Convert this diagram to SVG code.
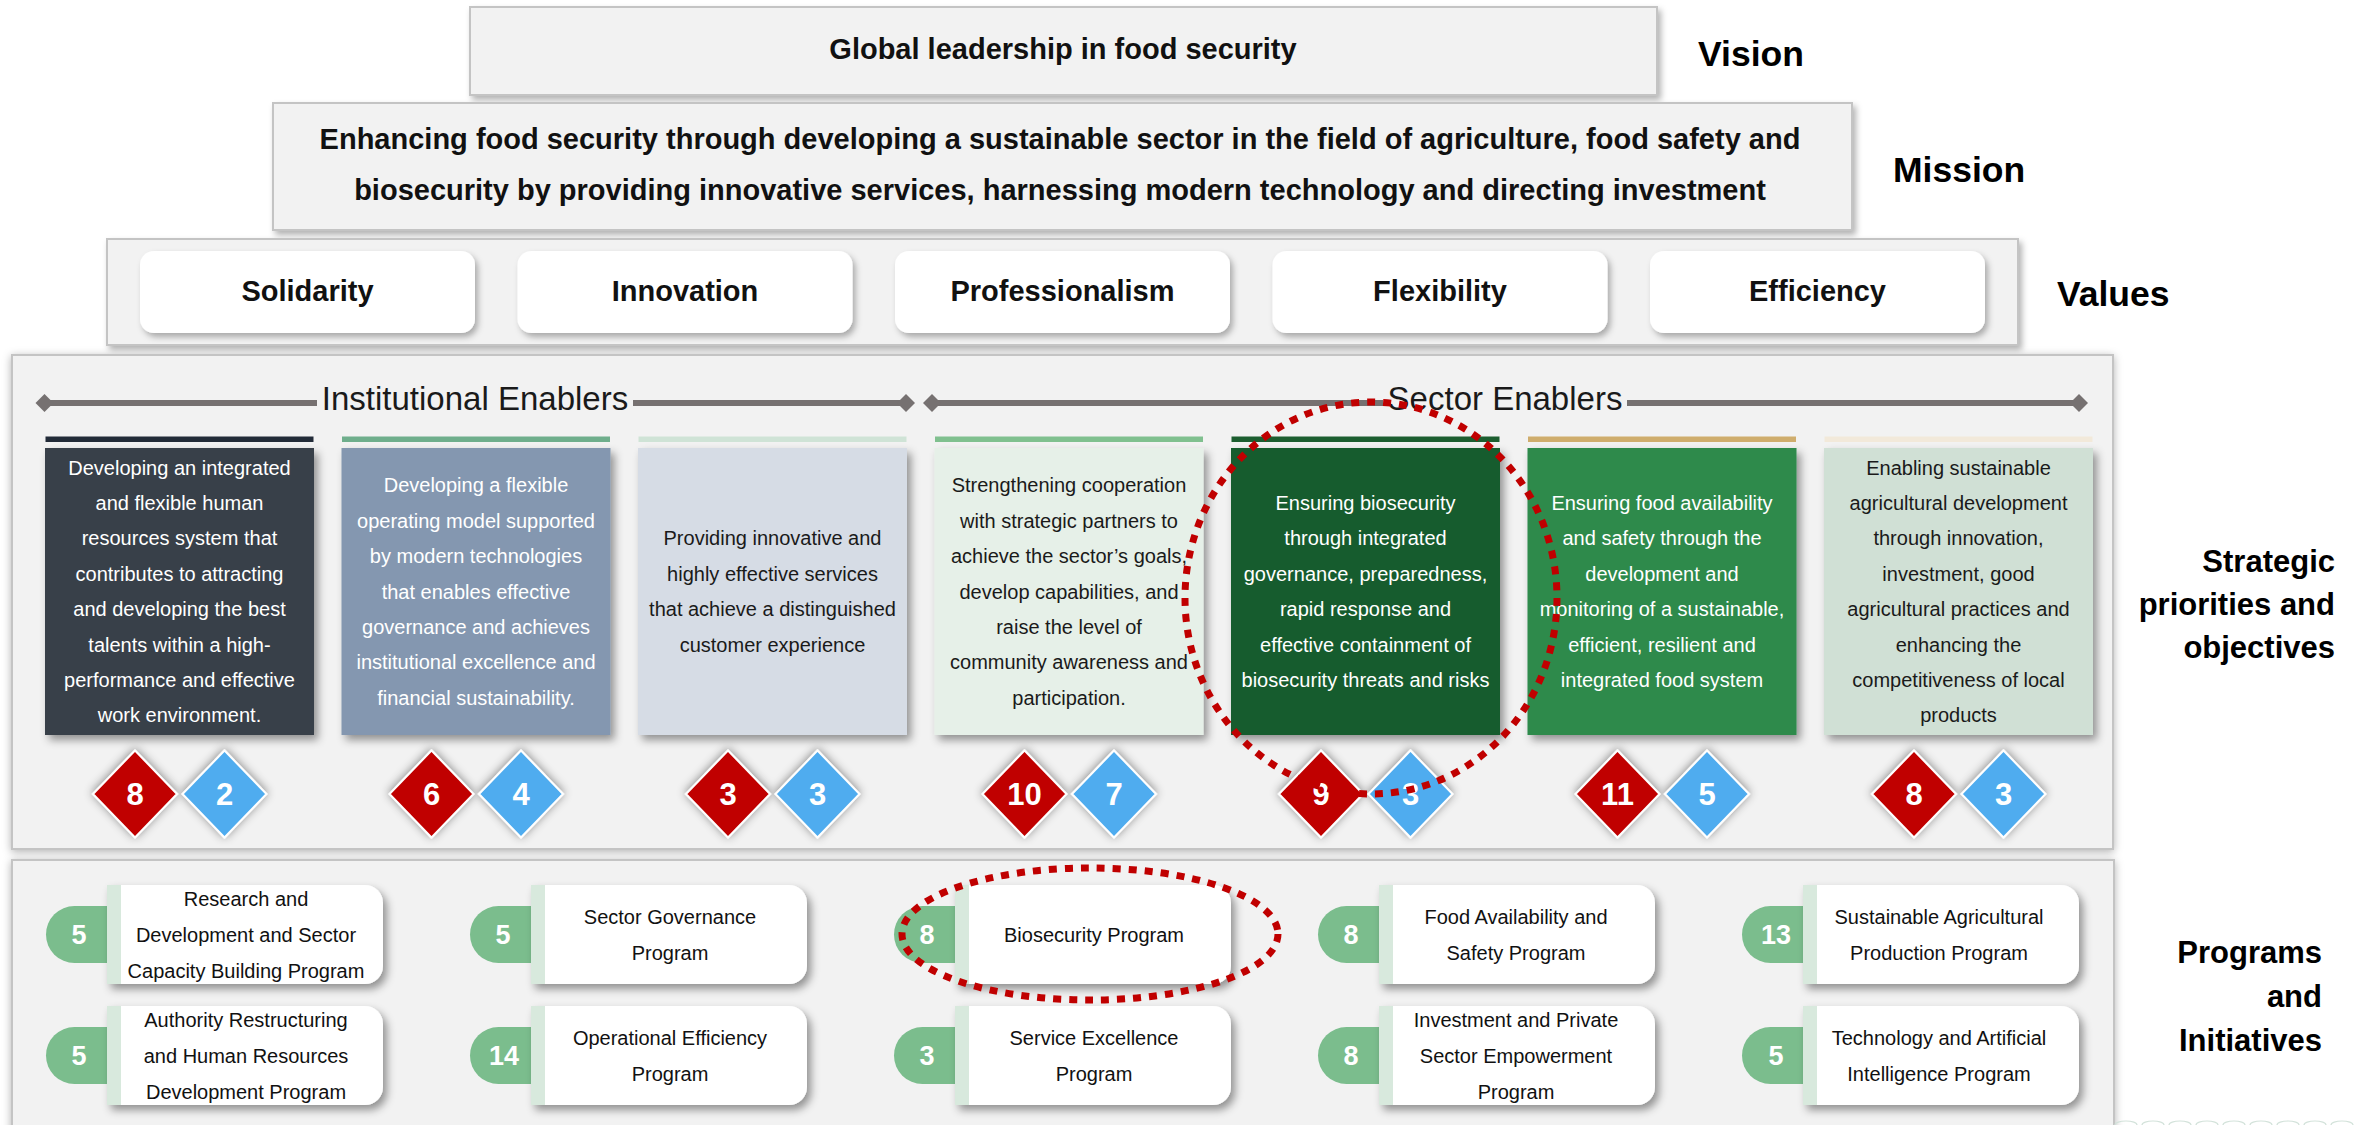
<svg xmlns="http://www.w3.org/2000/svg" width="2363" height="1125" viewBox="0 0 2363 1125">
<defs>
<filter id="sh" x="-10%" y="-10%" width="120%" height="130%"><feDropShadow dx="3" dy="4" stdDeviation="3" flood-color="#000" flood-opacity="0.3"/></filter>
<filter id="shc" x="-10%" y="-10%" width="125%" height="125%"><feDropShadow dx="4" dy="5" stdDeviation="4" flood-color="#000" flood-opacity="0.4"/></filter>
<filter id="shd" x="-30%" y="-30%" width="160%" height="160%"><feDropShadow dx="0" dy="-1" stdDeviation="5" flood-color="#000" flood-opacity="0.45"/></filter>
<filter id="shb" x="-5%" y="-5%" width="110%" height="110%"><feDropShadow dx="0" dy="2" stdDeviation="4" flood-color="#000" flood-opacity="0.3"/></filter>
<path id="hd" d="M-9,0 L0,-9 L9,0 L0,9Z"/>
<path id="dm" d="M0,-43.5 L42,0 L0,43.5 L-42,0Z"/>
<path id="pill" d="M28.5,0 H90 V57 H28.5 A28.5,28.5 0 0 1 28.5,0Z"/>
<path id="pcard" d="M0,0 H244 A18,18 0 0 1 262,18 V81 A18,18 0 0 1 244,99 H0Z"/>
</defs>
<style>
text{font-family:"Liberation Sans",Arial,sans-serif}
.bx{fill:#f2f2f2;stroke:#c4c4c4;stroke-width:2}
.h1{font-size:29px;font-weight:bold;fill:#111;text-anchor:middle}
.lab{font-size:35.5px;font-weight:bold;fill:#000}
.lab2{font-size:31px;font-weight:bold;fill:#000;text-anchor:end}
.val{fill:#fff}
.en{font-size:33px;fill:#1a1a1a;text-anchor:middle}
.hl{stroke:#767171;stroke-width:6}
.hdm{fill:#767171}
.ct{font-size:20px;text-anchor:middle}
.w{fill:#fff}
.k{fill:#1a1a1a}
.num{font-size:31px;font-weight:bold;fill:#fff;text-anchor:middle}
.red{fill:#c00000;stroke:#fff;stroke-width:2}
.blu{fill:#4facef;stroke:#fff;stroke-width:2}
.pl{fill:#7bbd8d}
.strip{fill:#d8e9dd}
.pc{fill:#fff}
.pn{font-size:27px;font-weight:bold;fill:#fff;text-anchor:middle}
.pt{font-size:20px;fill:#111;text-anchor:middle}
.hi{fill:none;stroke:#c00000;stroke-width:7;stroke-dasharray:8 8}
</style>

<rect x="0" y="0" width="2363" height="1125" fill="#fff"/>

<g id="vision">
<rect class="bx" x="470" y="7" width="1187" height="88" filter="url(#sh)"/>
<text class="h1" x="1063" y="59">Global leadership in food security</text>
<text class="lab" x="1698" y="66">Vision</text>
</g>

<g id="mission">
<rect class="bx" x="273" y="103" width="1579" height="127" filter="url(#sh)"/>
<text class="h1" x="1060" y="149">Enhancing food security through developing a sustainable sector in the field of agriculture, food safety and</text>
<text class="h1" x="1060" y="200">biosecurity by providing innovative services, harnessing modern technology and directing investment</text>
<text class="lab" x="1893" y="182">Mission</text>
</g>

<g id="values">
<rect class="bx" x="107" y="239" width="1911" height="106" filter="url(#sh)"/>
<g filter="url(#sh)">
<rect class="val" x="140" y="251" width="335" height="82" rx="14"/>
<rect class="val" x="517.5" y="251" width="335" height="82" rx="14"/>
<rect class="val" x="895" y="251" width="335" height="82" rx="14"/>
<rect class="val" x="1272.5" y="251" width="335" height="82" rx="14"/>
<rect class="val" x="1650" y="251" width="335" height="82" rx="14"/>
</g>
<text class="h1" x="307.5" y="301">Solidarity</text>
<text class="h1" x="685" y="301">Innovation</text>
<text class="h1" x="1062.5" y="301">Professionalism</text>
<text class="h1" x="1440" y="301">Flexibility</text>
<text class="h1" x="1817.5" y="301">Efficiency</text>
<text class="lab" x="2057" y="306">Values</text>
</g>

<g id="strategic">
<rect class="bx" x="12" y="355" width="2101" height="494" filter="url(#shb)"/>
<g id="headers">
<line class="hl" x1="44.5" y1="403" x2="317" y2="403"/>
<line class="hl" x1="633" y1="403" x2="906" y2="403"/>
<line class="hl" x1="932" y1="403" x2="1383" y2="403"/>
<line class="hl" x1="1627" y1="403" x2="2079" y2="403"/>
<use href="#hd" class="hdm" x="44.5" y="403"/>
<use href="#hd" class="hdm" x="906" y="403"/>
<use href="#hd" class="hdm" x="932" y="403"/>
<use href="#hd" class="hdm" x="2079" y="403"/>
<text class="en" x="475" y="410">Institutional Enablers</text>
<text class="en" x="1505" y="410">Sector Enablers</text>
</g>

<g id="card1">
<rect x="45.5" y="436.5" width="268" height="5.5" fill="#222b38"/>
<rect x="45" y="448" width="269" height="287" fill="#383f4a" filter="url(#shc)"/>
<text class="ct w" x="179.5" y="474.6"><tspan x="179.5">Developing an integrated</tspan><tspan x="179.5" dy="35.4">and flexible human</tspan><tspan x="179.5" dy="35.4">resources system that</tspan><tspan x="179.5" dy="35.4">contributes to attracting</tspan><tspan x="179.5" dy="35.4">and developing the best</tspan><tspan x="179.5" dy="35.4">talents within a high-</tspan><tspan x="179.5" dy="35.4">performance and effective</tspan><tspan x="179.5" dy="35.4">work environment.</tspan></text>
<g filter="url(#shd)"><use href="#dm" class="red" x="135" y="794"/><use href="#dm" class="blu" x="224.5" y="794"/></g>
<text class="num" x="135" y="805">8</text><text class="num" x="224.5" y="805">2</text>
</g>

<g id="card2">
<rect x="342" y="436.5" width="268" height="5.5" fill="#6fae8c"/>
<rect x="341.5" y="448" width="269" height="287" fill="#8497b0" filter="url(#shc)"/>
<text class="ct w" x="476" y="492.3"><tspan x="476">Developing a flexible</tspan><tspan x="476" dy="35.4">operating model supported</tspan><tspan x="476" dy="35.4">by modern technologies</tspan><tspan x="476" dy="35.4">that enables effective</tspan><tspan x="476" dy="35.4">governance and achieves</tspan><tspan x="476" dy="35.4">institutional excellence and</tspan><tspan x="476" dy="35.4">financial sustainability.</tspan></text>
<g filter="url(#shd)"><use href="#dm" class="red" x="431.5" y="794"/><use href="#dm" class="blu" x="521" y="794"/></g>
<text class="num" x="431.5" y="805">6</text><text class="num" x="521" y="805">4</text>
</g>

<g id="card3">
<rect x="638.5" y="436.5" width="268" height="5.5" fill="#cfe3d6"/>
<rect x="638" y="448" width="269" height="287" fill="#d6dce5" filter="url(#shc)"/>
<text class="ct k" x="772.5" y="545.4"><tspan x="772.5">Providing innovative and</tspan><tspan x="772.5" dy="35.4">highly effective services</tspan><tspan x="772.5" dy="35.4">that achieve a distinguished</tspan><tspan x="772.5" dy="35.4">customer experience</tspan></text>
<g filter="url(#shd)"><use href="#dm" class="red" x="728" y="794"/><use href="#dm" class="blu" x="817.5" y="794"/></g>
<text class="num" x="728" y="805">3</text><text class="num" x="817.5" y="805">3</text>
</g>

<g id="card4">
<rect x="935" y="436.5" width="268" height="5.5" fill="#80c08f"/>
<rect x="934.5" y="448" width="269" height="287" fill="#e6f0e8" filter="url(#shc)"/>
<text class="ct k" x="1069" y="492.3"><tspan x="1069">Strengthening cooperation</tspan><tspan x="1069" dy="35.4">with strategic partners to</tspan><tspan x="1069" dy="35.4">achieve the sector’s goals,</tspan><tspan x="1069" dy="35.4">develop capabilities, and</tspan><tspan x="1069" dy="35.4">raise the level of</tspan><tspan x="1069" dy="35.4">community awareness and</tspan><tspan x="1069" dy="35.4">participation.</tspan></text>
<g filter="url(#shd)"><use href="#dm" class="red" x="1024.5" y="794"/><use href="#dm" class="blu" x="1114" y="794"/></g>
<text class="num" x="1024.5" y="805">10</text><text class="num" x="1114" y="805">7</text>
</g>

<g id="card5">
<rect x="1231.5" y="436.5" width="268" height="5.5" fill="#1c5e30"/>
<rect x="1231" y="448" width="269" height="287" fill="#185c2f" filter="url(#shc)"/>
<text class="ct w" x="1365.5" y="510"><tspan x="1365.5">Ensuring biosecurity</tspan><tspan x="1365.5" dy="35.4">through integrated</tspan><tspan x="1365.5" dy="35.4">governance, preparedness,</tspan><tspan x="1365.5" dy="35.4">rapid response and</tspan><tspan x="1365.5" dy="35.4">effective containment of</tspan><tspan x="1365.5" dy="35.4">biosecurity threats and risks</tspan></text>
<g filter="url(#shd)"><use href="#dm" class="red" x="1321" y="794"/><use href="#dm" class="blu" x="1410.5" y="794"/></g>
<text class="num" x="1321" y="805">9</text><text class="num" x="1410.5" y="805">3</text>
</g>

<g id="card6">
<rect x="1528" y="436.5" width="268" height="5.5" fill="#cfad6d"/>
<rect x="1527.5" y="448" width="269" height="287" fill="#2e8a4b" filter="url(#shc)"/>
<text class="ct w" x="1662" y="510"><tspan x="1662">Ensuring food availability</tspan><tspan x="1662" dy="35.4">and safety through the</tspan><tspan x="1662" dy="35.4">development and</tspan><tspan x="1662" dy="35.4">monitoring of a sustainable,</tspan><tspan x="1662" dy="35.4">efficient, resilient and</tspan><tspan x="1662" dy="35.4">integrated food system</tspan></text>
<g filter="url(#shd)"><use href="#dm" class="red" x="1617.5" y="794"/><use href="#dm" class="blu" x="1707" y="794"/></g>
<text class="num" x="1617.5" y="805">11</text><text class="num" x="1707" y="805">5</text>
</g>

<g id="card7">
<rect x="1824.5" y="436.5" width="268" height="5.5" fill="#f2e9da"/>
<rect x="1824" y="448" width="269" height="287" fill="#d0e0d5" filter="url(#shc)"/>
<text class="ct k" x="1958.5" y="474.6"><tspan x="1958.5">Enabling sustainable</tspan><tspan x="1958.5" dy="35.4">agricultural development</tspan><tspan x="1958.5" dy="35.4">through innovation,</tspan><tspan x="1958.5" dy="35.4">investment, good</tspan><tspan x="1958.5" dy="35.4">agricultural practices and</tspan><tspan x="1958.5" dy="35.4">enhancing the</tspan><tspan x="1958.5" dy="35.4">competitiveness of local</tspan><tspan x="1958.5" dy="35.4">products</tspan></text>
<g filter="url(#shd)"><use href="#dm" class="red" x="1914" y="794"/><use href="#dm" class="blu" x="2003.5" y="794"/></g>
<text class="num" x="1914" y="805">8</text><text class="num" x="2003.5" y="805">3</text>
</g>

<text class="lab2" x="2335" y="572">Strategic</text>
<text class="lab2" x="2335" y="615">priorities and</text>
<text class="lab2" x="2335" y="658">objectives</text>
</g>

<g id="programs">
<rect class="bx" x="12" y="860" width="2102" height="280" filter="url(#shb)"/>

<g id="p1">
<use href="#pill" class="pl" x="46" y="906"/>
<g filter="url(#shc)"><rect class="strip" x="107" y="885" width="14" height="99"/><use href="#pcard" class="pc" x="121" y="885"/></g>
<text class="pn" x="79" y="944">5</text>
<text class="pt" y="905.5"><tspan x="246">Research and</tspan><tspan x="246" dy="36">Development and Sector</tspan><tspan x="246" dy="36">Capacity Building Program</tspan></text>
</g>

<g id="p2">
<use href="#pill" class="pl" x="470" y="906"/>
<g filter="url(#shc)"><rect class="strip" x="531" y="885" width="14" height="99"/><use href="#pcard" class="pc" x="545" y="885"/></g>
<text class="pn" x="503" y="944">5</text>
<text class="pt" y="923.5"><tspan x="670">Sector Governance</tspan><tspan x="670" dy="36">Program</tspan></text>
</g>

<g id="p3">
<use href="#pill" class="pl" x="894" y="906"/>
<g filter="url(#shc)"><rect class="strip" x="955" y="885" width="14" height="99"/><use href="#pcard" class="pc" x="969" y="885"/></g>
<text class="pn" x="927" y="944">8</text>
<text class="pt" x="1094" y="941.5">Biosecurity Program</text>
</g>

<g id="p4">
<use href="#pill" class="pl" x="1318" y="906"/>
<g filter="url(#shc)"><rect class="strip" x="1379" y="885" width="14" height="99"/><use href="#pcard" class="pc" x="1393" y="885"/></g>
<text class="pn" x="1351" y="944">8</text>
<text class="pt" y="923.5"><tspan x="1516">Food Availability and</tspan><tspan x="1516" dy="36">Safety Program</tspan></text>
</g>

<g id="p5">
<use href="#pill" class="pl" x="1742" y="906"/>
<g filter="url(#shc)"><rect class="strip" x="1803" y="885" width="14" height="99"/><use href="#pcard" class="pc" x="1817" y="885"/></g>
<text class="pn" x="1776" y="944">13</text>
<text class="pt" y="923.5"><tspan x="1939">Sustainable Agricultural</tspan><tspan x="1939" dy="36">Production Program</tspan></text>
</g>

<g id="p6">
<use href="#pill" class="pl" x="46" y="1027"/>
<g filter="url(#shc)"><rect class="strip" x="107" y="1006" width="14" height="99"/><use href="#pcard" class="pc" x="121" y="1006"/></g>
<text class="pn" x="79" y="1065">5</text>
<text class="pt" y="1026.5"><tspan x="246">Authority Restructuring</tspan><tspan x="246" dy="36">and Human Resources</tspan><tspan x="246" dy="36">Development Program</tspan></text>
</g>

<g id="p7">
<use href="#pill" class="pl" x="470" y="1027"/>
<g filter="url(#shc)"><rect class="strip" x="531" y="1006" width="14" height="99"/><use href="#pcard" class="pc" x="545" y="1006"/></g>
<text class="pn" x="504" y="1065">14</text>
<text class="pt" y="1044.5"><tspan x="670">Operational Efficiency</tspan><tspan x="670" dy="36">Program</tspan></text>
</g>

<g id="p8">
<use href="#pill" class="pl" x="894" y="1027"/>
<g filter="url(#shc)"><rect class="strip" x="955" y="1006" width="14" height="99"/><use href="#pcard" class="pc" x="969" y="1006"/></g>
<text class="pn" x="927" y="1065">3</text>
<text class="pt" y="1044.5"><tspan x="1094">Service Excellence</tspan><tspan x="1094" dy="36">Program</tspan></text>
</g>

<g id="p9">
<use href="#pill" class="pl" x="1318" y="1027"/>
<g filter="url(#shc)"><rect class="strip" x="1379" y="1006" width="14" height="99"/><use href="#pcard" class="pc" x="1393" y="1006"/></g>
<text class="pn" x="1351" y="1065">8</text>
<text class="pt" y="1026.5"><tspan x="1516">Investment and Private</tspan><tspan x="1516" dy="36">Sector Empowerment</tspan><tspan x="1516" dy="36">Program</tspan></text>
</g>

<g id="p10">
<use href="#pill" class="pl" x="1742" y="1027"/>
<g filter="url(#shc)"><rect class="strip" x="1803" y="1006" width="14" height="99"/><use href="#pcard" class="pc" x="1817" y="1006"/></g>
<text class="pn" x="1776" y="1065">5</text>
<text class="pt" y="1044.5"><tspan x="1939">Technology and Artificial</tspan><tspan x="1939" dy="36">Intelligence Program</tspan></text>
</g>

<text class="lab2" x="2322" y="963">Programs</text>
<text class="lab2" x="2322" y="1007">and</text>
<text class="lab2" x="2322" y="1051">Initiatives</text>
</g>

<g id="highlights">
<ellipse class="hi" cx="1371" cy="598" rx="186" ry="196"/>
<ellipse class="hi" cx="1090" cy="934" rx="188" ry="66"/>
</g>

<path d="M2115,1125 a11,4 0 0 1 22,0 M2142,1125 a11,4 0 0 1 22,0 M2169,1125 a11,4 0 0 1 22,0 M2196,1125 a11,4 0 0 1 22,0 M2223,1125 a11,4 0 0 1 22,0 M2250,1125 a11,4 0 0 1 22,0 M2277,1125 a11,4 0 0 1 22,0 M2304,1125 a11,4 0 0 1 22,0 M2331,1125 a11,4 0 0 1 22,0" fill="none" stroke="#d3e2da" stroke-width="1.2"/>
</svg>
